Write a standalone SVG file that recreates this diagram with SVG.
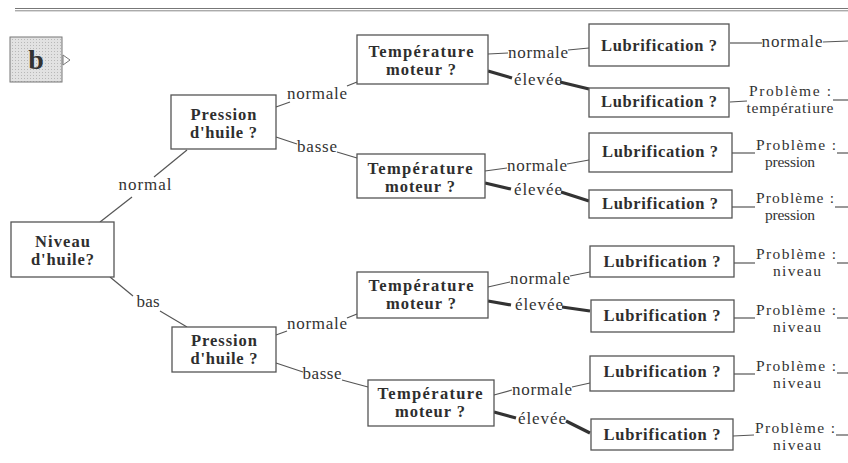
<svg xmlns="http://www.w3.org/2000/svg" width="848" height="463" viewBox="0 0 848 463">
  <style>
    .box { fill: #ffffff; stroke: #555; stroke-width: 1.3; }
    .q { font-family: "Liberation Serif", "Times New Roman", serif; font-weight: bold; font-size: 16.5px; fill: #2e2e2e; text-anchor: middle; }
    .lbl { font-family: "Liberation Serif", "Times New Roman", serif; font-size: 17px; fill: #333; text-anchor: middle; }
    .res { font-family: "Liberation Serif", "Times New Roman", serif; font-size: 15.5px; fill: #333; text-anchor: middle; }
    .thin { stroke: #555; stroke-width: 1.2; fill: none; }
    .thick { stroke: #333; stroke-width: 3.2; fill: none; }
  </style>
  <defs>
    <pattern id="dots" width="3" height="3" patternUnits="userSpaceOnUse">
      <rect width="3" height="3" fill="#e2e2e2"/>
      <rect width="1" height="1" fill="#b8b8b8"/>
    </pattern>
  </defs>
  <rect width="848" height="463" fill="#ffffff"/>

  <!-- header rule -->
  <line x1="15" y1="8.5" x2="848" y2="8.5" stroke="#777" stroke-width="1"/>
  <line x1="15" y1="10.8" x2="848" y2="10.8" stroke="#888" stroke-width="1"/>

  <!-- panel tag -->
  <g id="tag">
    <rect x="10" y="37" width="52" height="45" fill="url(#dots)" stroke="#777" stroke-width="1"/>
    <polygon points="63,55 70,60 63,65" fill="#fff" stroke="#777" stroke-width="1"/>
    <text x="36" y="69" font-family="Liberation Serif, serif" font-weight="bold" font-size="28" fill="#333" text-anchor="middle">b</text>
  </g>

  <!-- connectors -->
  <g id="connectors">
    <!-- Niveau -> Pression -->
    <polyline class="thin" points="100,222 132,197"/>
    <polyline class="thin" points="154,177 187,150"/>
    <polyline class="thin" points="110,277 133,296"/>
    <polyline class="thin" points="160,311 187,327"/>
    <!-- Pression (haut) -> Température -->
    <polyline class="thin" points="276,107 290,102"/>
    <polyline class="thin" points="347,86 357,82"/>
    <polyline class="thin" points="276,137 297,144"/>
    <polyline class="thin" points="337,152 357,158"/>
    <!-- Pression (bas) -> Température -->
    <polyline class="thin" points="276,335 287,331"/>
    <polyline class="thin" points="347,318 357,314"/>
    <polyline class="thin" points="276,363 303,372"/>
    <polyline class="thin" points="342,380 368,387"/>
    <!-- Température 1 -->
    <polyline class="thin" points="488,54 508,53"/>
    <polyline class="thin" points="568,50 589,48"/>
    <polyline class="thick" points="488,71 512,78"/>
    <polyline class="thick" points="560,82 589,89"/>
    <!-- Température 2 -->
    <polyline class="thin" points="485,171 507,168"/>
    <polyline class="thin" points="567,164 589,160"/>
    <polyline class="thick" points="485,183 511,189"/>
    <polyline class="thick" points="561,192 589,201"/>
    <!-- Température 3 -->
    <polyline class="thin" points="488,287 510,282"/>
    <polyline class="thin" points="570,276 590,272"/>
    <polyline class="thick" points="488,301 511,305"/>
    <polyline class="thick" points="562,307 590,311"/>
    <!-- Température 4 -->
    <polyline class="thin" points="494,395 512,390"/>
    <polyline class="thin" points="572,387 590,383"/>
    <polyline class="thick" points="494,412 516,418"/>
    <polyline class="thick" points="566,421 590,433"/>
    <!-- Lubrification -> résultats -->
    <polyline class="thin" points="730,43 762,43"/>
    <polyline class="thin" points="823,42 848,41"/>
    <polyline class="thin" points="730,102 747,101"/>
    <polyline class="thin" points="833,100 848,100"/>
    <polyline class="thin" points="732,153 755,153"/>
    <polyline class="thin" points="837,153 848,153"/>
    <polyline class="thin" points="732,207 755,207"/>
    <polyline class="thin" points="835,207 848,207"/>
    <polyline class="thin" points="734,263 755,263"/>
    <polyline class="thin" points="837,263 848,263"/>
    <polyline class="thin" points="734,318 755,318"/>
    <polyline class="thin" points="837,318 848,318"/>
    <polyline class="thin" points="734,374 755,374"/>
    <polyline class="thin" points="837,373 848,373"/>
    <polyline class="thin" points="733,436 754,435"/>
    <polyline class="thin" points="836,435 848,435"/>
  </g>

  <!-- branch labels -->
  <g id="labels">
    <text class="lbl" x="145" y="190" textLength="53">normal</text>
    <text class="lbl" x="148" y="307" textLength="23">bas</text>
    <text class="lbl" x="317" y="99" textLength="60">normale</text>
    <text class="lbl" x="317" y="152" textLength="40">basse</text>
    <text class="lbl" x="317" y="329" textLength="60">normale</text>
    <text class="lbl" x="322" y="379" textLength="39">basse</text>
    <text class="lbl" x="538" y="58" textLength="60">normale</text>
    <text class="lbl" x="538" y="85" textLength="48">élevée</text>
    <text class="lbl" x="537" y="171" textLength="60">normale</text>
    <text class="lbl" x="538" y="195" textLength="48">élevée</text>
    <text class="lbl" x="540" y="284" textLength="60">normale</text>
    <text class="lbl" x="539" y="310" textLength="48">élevée</text>
    <text class="lbl" x="542" y="395" textLength="60">normale</text>
    <text class="lbl" x="542" y="424" textLength="48">élevée</text>
  </g>

  <!-- décisions -->
  <g id="niveau">
    <rect class="box" x="11" y="222" width="103" height="55"/>
    <text class="q" x="62.5" y="247" textLength="55">Niveau</text>
    <text class="q" x="62.5" y="265" textLength="63">d'huile?</text>
  </g>
  <g id="pression-normal">
    <rect class="box" x="171" y="95" width="105" height="54"/>
    <text class="q" x="223.5" y="120" textLength="66">Pression</text>
    <text class="q" x="223.5" y="138" textLength="67">d'huile ?</text>
  </g>
  <g id="pression-bas">
    <rect class="box" x="172" y="327" width="104" height="45"/>
    <text class="q" x="224" y="346" textLength="66">Pression</text>
    <text class="q" x="224" y="364" textLength="67">d'huile ?</text>
  </g>
  <g id="temperature-1">
    <rect class="box" x="357" y="35" width="131" height="49"/>
    <text class="q" x="421" y="57" textLength="105">Température</text>
    <text class="q" x="421" y="75" textLength="70">moteur ?</text>
  </g>
  <g id="temperature-2">
    <rect class="box" x="357" y="154" width="128" height="44"/>
    <text class="q" x="420" y="174" textLength="105">Température</text>
    <text class="q" x="420" y="192" textLength="70">moteur ?</text>
  </g>
  <g id="temperature-3">
    <rect class="box" x="357" y="272" width="131" height="46"/>
    <text class="q" x="421" y="291" textLength="105">Température</text>
    <text class="q" x="421" y="309" textLength="70">moteur ?</text>
  </g>
  <g id="temperature-4">
    <rect class="box" x="368" y="380" width="126" height="46"/>
    <text class="q" x="430" y="399" textLength="105">Température</text>
    <text class="q" x="430" y="417" textLength="70">moteur ?</text>
  </g>

  <g id="lubrification-1">
    <rect class="box" x="589" y="24" width="140" height="42"/>
    <text class="q" x="659" y="51" textLength="116">Lubrification ?</text>
  </g>
  <g id="lubrification-2">
    <rect class="box" x="589" y="88" width="140" height="29"/>
    <text class="q" x="659" y="107" textLength="116">Lubrification ?</text>
  </g>
  <g id="lubrification-3">
    <rect class="box" x="589" y="133" width="143" height="39"/>
    <text class="q" x="660" y="157" textLength="116">Lubrification ?</text>
  </g>
  <g id="lubrification-4">
    <rect class="box" x="589" y="190" width="143" height="28"/>
    <text class="q" x="660" y="209" textLength="116">Lubrification ?</text>
  </g>
  <g id="lubrification-5">
    <rect class="box" x="590" y="246" width="144" height="31"/>
    <text class="q" x="662" y="267" textLength="117">Lubrification ?</text>
  </g>
  <g id="lubrification-6">
    <rect class="box" x="591" y="300" width="143" height="32"/>
    <text class="q" x="662" y="321" textLength="117">Lubrification ?</text>
  </g>
  <g id="lubrification-7">
    <rect class="box" x="590" y="356" width="144" height="35"/>
    <text class="q" x="662" y="377" textLength="117">Lubrification ?</text>
  </g>
  <g id="lubrification-8">
    <rect class="box" x="591" y="419" width="142" height="31"/>
    <text class="q" x="662" y="440" textLength="117">Lubrification ?</text>
  </g>

  <!-- résultats -->
  <g id="resultat-1">
    <text class="lbl" x="792" y="47" textLength="61">normale</text>
  </g>
  <g id="resultat-2">
    <text class="res" x="790" y="96" textLength="82">Problème :</text>
    <text class="res" x="790" y="113" textLength="87">températiure</text>
  </g>
  <g id="resultat-3">
    <text class="res" x="796" y="150" textLength="80">Problème :</text>
    <text class="res" x="790" y="167" textLength="50">pression</text>
  </g>
  <g id="resultat-4">
    <text class="res" x="795" y="203" textLength="78">Problème :</text>
    <text class="res" x="790" y="220" textLength="50">pression</text>
  </g>
  <g id="resultat-5">
    <text class="res" x="796" y="259" textLength="80">Problème :</text>
    <text class="res" x="797" y="276" textLength="48">niveau</text>
  </g>
  <g id="resultat-6">
    <text class="res" x="796" y="315" textLength="80">Problème :</text>
    <text class="res" x="797" y="332" textLength="48">niveau</text>
  </g>
  <g id="resultat-7">
    <text class="res" x="796" y="371" textLength="80">Problème :</text>
    <text class="res" x="797" y="388" textLength="48">niveau</text>
  </g>
  <g id="resultat-8">
    <text class="res" x="795" y="433" textLength="80">Problème :</text>
    <text class="res" x="797" y="450" textLength="48">niveau</text>
  </g>
</svg>
